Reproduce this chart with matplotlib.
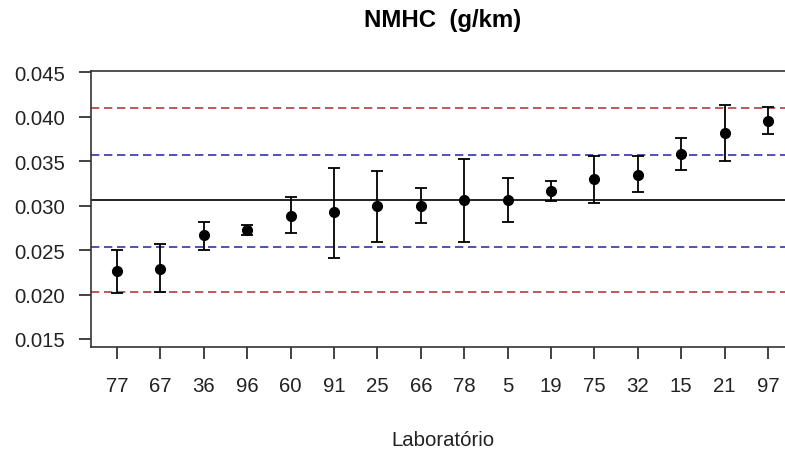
import matplotlib
matplotlib.use('Agg')
import matplotlib.pyplot as plt

labs = ['77', '67', '36', '96', '60', '91', '25', '66', '78', '5', '19', '75', '32', '15', '21', '97']
val = [0.02262, 0.02287, 0.02666, 0.02726, 0.02887, 0.02929, 0.02993, 0.02993,
       0.0306, 0.0306, 0.03165, 0.03296, 0.03349, 0.03585, 0.03817, 0.03952]
upper = [0.02505, 0.02565, 0.02813, 0.02786, 0.03094, 0.03424, 0.0339, 0.03195,
         0.03525, 0.03315, 0.03281, 0.03555, 0.03562, 0.03758, 0.04129, 0.04114]
lower = [0.02014, 0.02032, 0.02505, 0.02666, 0.02696, 0.02415, 0.02595, 0.02801,
         0.02595, 0.02813, 0.03049, 0.03034, 0.0315, 0.03405, 0.03506, 0.03802]
center = 0.0306
blue_lims = [0.02535, 0.03566]
red_lims = [0.02029, 0.04098]

plt.rcParams['font.family'] = ['Liberation Sans', 'DejaVu Sans']

fig = plt.figure(figsize=(7.85, 4.52), dpi=100)
ax = fig.add_axes([0.1159, 0.2301, 0.8955, 0.6113])

x = list(range(1, len(labs) + 1))
yerr = [[v - l for v, l in zip(val, lower)], [u - v for u, v in zip(upper, val)]]

ax.axhline(center, color='black', lw=1.2, zorder=1)
for y in blue_lims:
    ax.axhline(y, color='#3333aa', lw=1.2, ls=(0, (5, 2.8)), zorder=1)
for y in red_lims:
    ax.axhline(y, color='#b04040', lw=1.2, ls=(0, (5, 2.8)), zorder=1)

ax.errorbar(x, val, yerr=yerr, fmt='o', color='black', ms=7, elinewidth=1.3,
            capsize=4.5, capthick=1.3, zorder=3)

ax.set_xlim(0.4, 16.6)
ax.set_ylim(0.0141, 0.0452)
ax.set_xticks(x)
ax.set_xticklabels(labs)
ax.set_yticks([0.015, 0.020, 0.025, 0.030, 0.035, 0.040, 0.045])
ax.set_yticklabels(['0.015', '0.020', '0.025', '0.030', '0.035', '0.040', '0.045'])
ax.tick_params(length=8.6, width=1.2, labelsize=14.7, colors='#222222', pad=10)
ax.tick_params(axis='x', pad=12)
for s in ax.spines.values():
    s.set_linewidth(1.2)
    s.set_color('#333333')

fig.text(0.5637, 1 - 27.3 / 452, 'NMHC  (g/km)', ha='center', va='baseline',
         fontsize=17.3, fontweight='bold')
fig.text(0.5637, 1 - 446 / 452, 'Laboratório', ha='center', va='baseline',
         fontsize=14.7, color='#222222')

fig.savefig('out.png', dpi=100)
